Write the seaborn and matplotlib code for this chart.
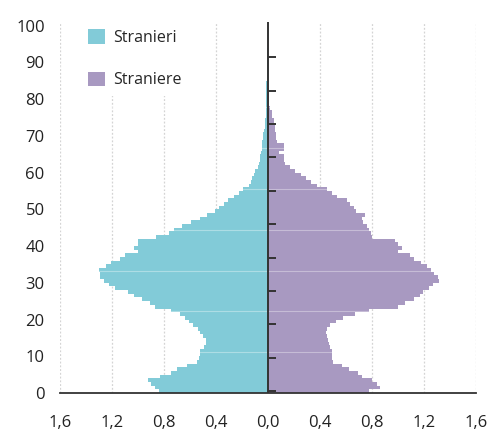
import numpy as np
import pandas as pd
import matplotlib
matplotlib.use('Agg')
import matplotlib.pyplot as plt
import seaborn as sns

# quota percentuale per eta' (0-100 anni)
ages = np.arange(0, 101)
stranieri = [
    0.84, 0.87, 0.90, 0.92, 0.83, 0.75, 0.70, 0.62, 0.55, 0.53,
    0.52, 0.52, 0.49, 0.48, 0.48, 0.50, 0.52, 0.54, 0.58, 0.61,
    0.64, 0.68, 0.75, 0.87, 0.91, 0.97, 1.03, 1.08, 1.18, 1.22,
    1.26, 1.29, 1.29, 1.30, 1.25, 1.21, 1.14, 1.10, 1.00, 1.03,
    1.00, 1.00, 0.86, 0.76, 0.72, 0.66, 0.59, 0.52, 0.47, 0.41,
    0.38, 0.34, 0.31, 0.26, 0.22, 0.19, 0.15, 0.13, 0.12, 0.11,
    0.10, 0.08, 0.07, 0.065, 0.06, 0.055, 0.045, 0.045, 0.045, 0.04,
    0.035, 0.03, 0.025, 0.02, 0.02, 0.016, 0.015, 0.015, 0.014, 0.014,
    0.013, 0.013, 0.012, 0.012, 0.012, 0.011, 0.011, 0.01, 0.01, 0.01,
    0.009, 0.009, 0.008, 0.008, 0.0, 0.0, 0.0, 0.0, 0.0, 0.0, 0.0,
]
straniere = [
    0.78, 0.865, 0.84, 0.80, 0.72, 0.69, 0.62, 0.57, 0.50, 0.49,
    0.49, 0.49, 0.48, 0.47, 0.46, 0.45, 0.445, 0.45, 0.48, 0.52,
    0.58, 0.67, 0.78, 1.00, 1.05, 1.12, 1.17, 1.19, 1.24, 1.27,
    1.315, 1.31, 1.28, 1.25, 1.225, 1.18, 1.12, 1.09, 1.00, 1.03,
    1.00, 0.98, 0.80, 0.79, 0.78, 0.76, 0.73, 0.72, 0.745, 0.68,
    0.66, 0.63, 0.61, 0.53, 0.49, 0.45, 0.38, 0.33, 0.29, 0.25,
    0.21, 0.17, 0.13, 0.12, 0.12, 0.085, 0.12, 0.12, 0.07, 0.065,
    0.06, 0.057, 0.05, 0.045, 0.044, 0.032, 0.03, 0.019, 0.006, 0.005,
    0.005, 0.004, 0.004, 0.003, 0.003, 0.003, 0.002, 0.002, 0.002, 0.002,
    0.0, 0.0, 0.0, 0.0, 0.0, 0.0, 0.0, 0.0, 0.0, 0.0, 0.0,
]
x_ticks = [-1.6, -1.2, -0.8, -0.4, 0.0, 0.4, 0.8, 1.2, 1.6]
x_labels = ['1,6', '1,2', '0,8', '0,4', '0,0', '0,4', '0,8', '1,2', '1,6']
y_ticks = list(range(0, 101, 10))
labels = ['Stranieri', 'Straniere']
colors = ['#82cbd8', '#a899c1']

df = pd.DataFrame({'eta': ages + 0.5,
                   'maschi': -np.array(stranieri),
                   'femmine': np.array(straniere)})

sns.set_style('white')
plt.rcParams['font.family'] = ['Open Sans', 'DejaVu Sans']

fig = plt.figure(figsize=(4.93, 4.36), dpi=100)
ax = fig.add_axes([60 / 493, 43 / 436, 416 / 493, 371 / 436])

# griglia verticale tratteggiata
for xv in x_ticks:
    if xv != 0:
        ax.axvline(xv, color='#d4d4d4', lw=0.9, ls=(0, (1.5, 1.5)), zorder=0)

sns.barplot(data=df, x='maschi', y='eta', orient='y', native_scale=True,
            width=1, color=colors[0], saturation=1, errorbar=None,
            linewidth=0, label=labels[0], ax=ax, zorder=2)
sns.barplot(data=df, x='femmine', y='eta', orient='y', native_scale=True,
            width=1, color=colors[1], saturation=1, errorbar=None,
            linewidth=0, label=labels[1], ax=ax, zorder=2)

# linee chiare sopra le barre
for yv in np.arange(1, 9) * 100 / 9:
    ax.axhline(yv, color='white', lw=0.8, alpha=0.35, zorder=3)

# asse centrale con tacche
ax.axvline(0, color='#333333', lw=1.4, zorder=4)
for yv in np.arange(11) * 100 / 11 + 0.5:
    ax.plot([0, 0.062], [yv, yv], color='#333333', lw=1.4,
            solid_capstyle='butt', zorder=4)

ax.set_xlim(-1.6, 1.6)
ax.set_ylim(0, 101)
ax.set_xticks(x_ticks)
ax.set_xticklabels(x_labels)
ax.set_yticks(y_ticks)
ax.set_yticklabels([str(v) for v in y_ticks])
ax.set_xlabel('')
ax.set_ylabel('')

for side in ['top', 'right', 'left']:
    ax.spines[side].set_visible(False)
ax.spines['bottom'].set_color('#333333')
ax.spines['bottom'].set_linewidth(1.3)
ax.spines['bottom'].set_zorder(5)
ax.tick_params(axis='x', direction='out', length=6, width=1.3,
               color='#333333', pad=10, labelsize=12, labelcolor='#222222')
ax.tick_params(axis='y', length=0, pad=11, labelsize=12,
               labelcolor='#222222')

leg = ax.legend(loc='upper left', bbox_to_anchor=(0.05, 1.0),
                frameon=True, facecolor='white', edgecolor='none',
                framealpha=1, fontsize=11.5, handlelength=1.05,
                handleheight=1.05, handletextpad=0.5, labelspacing=1.6,
                borderpad=0.45, borderaxespad=0)
leg.set_zorder(6)

fig.savefig('out.png', dpi=100)
